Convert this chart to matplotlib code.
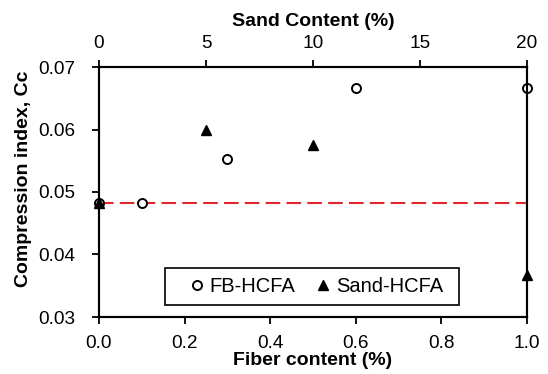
import numpy as np
import matplotlib.pyplot as plt
from matplotlib.patches import Rectangle

plt.rcParams['font.family'] = ['Liberation Sans', 'DejaVu Sans']

# FB-HCFA: fiber content (%) vs compression index
fiber = [0.0, 0.1, 0.3, 0.6, 1.0]
cc_fiber = [0.0483, 0.0483, 0.0553, 0.0667, 0.0667]

# Sand-HCFA: sand content (%) vs compression index
sand = [0, 5, 10, 20]
cc_sand = [0.0483, 0.0600, 0.0575, 0.0367]

# reference value of untreated HCFA
cc_base = 0.0483

fig = plt.figure(figsize=(5.48, 3.74), dpi=100)
ax = fig.add_axes([99 / 548, 1 - 317 / 374, 428 / 548, 250 / 374])

ax.axhline(cc_base, color='#e3262b', lw=1.5, ls=(0, (7, 3)), zorder=1)
h1, = ax.plot(fiber, cc_fiber, 'o', ms=6.5, mfc='white', mec='black', mew=1.4,
              label='FB-HCFA', clip_on=False, zorder=3)

ax.set_xlim(0, 1.0)
ax.set_ylim(0.03, 0.07)
ax.set_xticks(np.arange(0, 1.01, 0.2))
ax.set_yticks([0.03, 0.04, 0.05, 0.06, 0.07])
ax.xaxis.set_major_formatter(plt.FormatStrFormatter('%.1f'))
ax.yaxis.set_major_formatter(plt.FormatStrFormatter('%.2f'))
ax.set_xlabel('Fiber content (%)', fontsize=14, fontweight='bold', labelpad=0)
ax.set_ylabel('Compression index, Cc', fontsize=14, fontweight='bold')
ax.yaxis.set_label_coords(-0.156, 0.554)
ax.tick_params(axis='x', labelsize=13.7, direction='out', length=5, width=1.3, pad=8)
ax.tick_params(axis='y', labelsize=13.7, direction='out', length=5, width=1.3, pad=12)

ax2 = ax.twiny()
h2, = ax2.plot(sand, cc_sand, '^', ms=7, color='black', label='Sand-HCFA',
               clip_on=False, zorder=3)
ax2.set_xlim(0, 20)
ax2.set_xticks([0, 5, 10, 15, 20])
ax2.set_xlabel('Sand Content (%)', fontsize=14, fontweight='bold', labelpad=6)
ax2.tick_params(axis='x', labelsize=13.7, direction='out', length=5, width=1.3, pad=6)

for a in (ax, ax2):
    for s in a.spines.values():
        s.set_linewidth(1.5)

# legend box drawn separately so its padding can be set freely
ax.add_patch(Rectangle((0.154, 0.048), 0.687, 0.148, transform=ax.transAxes,
                       fill=True, facecolor='white', edgecolor='black', lw=1.2,
                       zorder=4))
leg = ax.legend(handles=[h1, h2], loc='center', bbox_to_anchor=(0.504, 0.122),
                ncol=2, fontsize=14.5, frameon=False,
                handlelength=1.0, handletextpad=0.15, columnspacing=0.85,
                borderpad=0, borderaxespad=0)
leg.set_zorder(5)

fig.savefig('out.png', dpi=100)
